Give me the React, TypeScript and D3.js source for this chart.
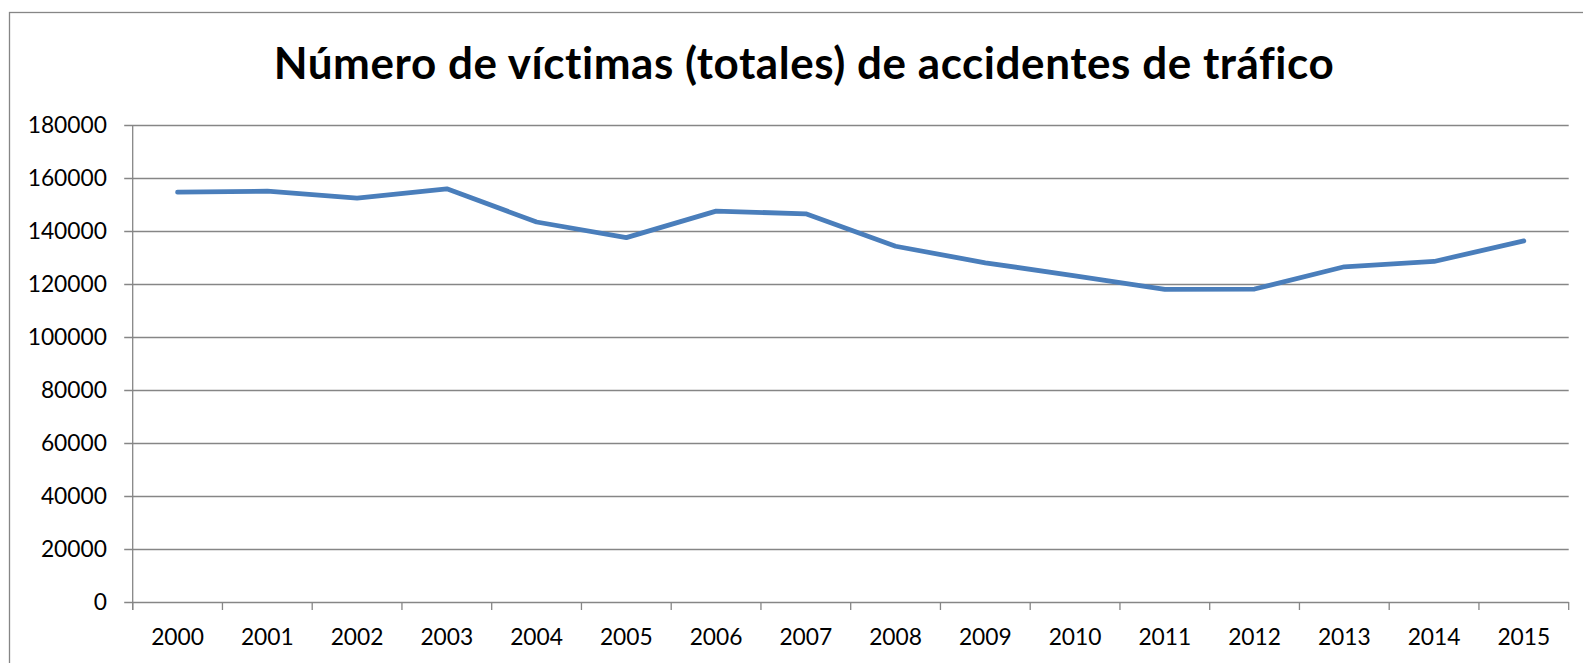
import React from "react";
import * as d3 from "d3";

const years = ["2000","2001","2002","2003","2004","2005","2006","2007","2008","2009","2010","2011","2012","2013","2014","2015"];
const victims = [154650, 155030, 152400, 155900, 143400, 137500, 147500, 146500, 134250, 128000, 123100, 118000, 118100, 126500, 128500, 136250];
const yTicks = [0, 20000, 40000, 60000, 80000, 100000, 120000, 140000, 160000, 180000];
const title = "Número de víctimas (totales) de accidentes de tráfico";

const W = 1583, H = 663;
const left = 132.7, right = 1568.7, top = 125, bottom = 602;
const grid = "#868686";
const font = "Lato, 'Open Sans', sans-serif";

export default function App() {
  const x = d3.scaleBand<string>().domain(years).range([left, right]).padding(0);
  const y = d3.scaleLinear().domain([0, 180000]).range([bottom, top]);
  const line = d3.line<number>()
    .x((_, i) => (x(years[i]) as number) + x.bandwidth() / 2)
    .y((d) => y(d));
  const bounds = years.map((yr) => x(yr) as number).concat([right]);
  return (
    <svg width={W} height={H} style={{ position: "fixed", left: 0, top: 0, background: "#fff" }}>
      <rect x={9.5} y={12.5} width={1620} height={700} fill="#fff" stroke={grid} strokeWidth={1.3} />
      <text x={804} y={78.5} textAnchor="middle" fontFamily={font} fontWeight={700} fontSize={44} letterSpacing={0.55} style={{ fontVariantLigatures: "none" }} fill="#000">{title}</text>
      {yTicks.map((t) => (
        <g key={t}>
          <line x1={left - 8.5} x2={right} y1={Math.round(y(t)) + 0.5} y2={Math.round(y(t)) + 0.5} stroke={grid} strokeWidth={1.3} />
          <text x={107} y={y(t) + 8} textAnchor="end" fontFamily={font} fontSize={22.8} fill="#000">{t}</text>
        </g>
      ))}
      <line x1={left} x2={left} y1={top} y2={bottom + 8} stroke={grid} strokeWidth={1.3} />
      {bounds.map((b, i) => (
        <line key={i} x1={b} x2={b} y1={bottom} y2={bottom + 8} stroke={grid} strokeWidth={1.3} />
      ))}
      {years.map((yr) => (
        <text key={yr} x={(x(yr) as number) + x.bandwidth() / 2} y={645} textAnchor="middle" fontFamily={font} fontSize={22.8} fill="#000">{yr}</text>
      ))}
      <path d={line(victims) || ""} fill="none" stroke="#4A7EBB" strokeWidth={4.8} strokeLinejoin="round" strokeLinecap="round" />
    </svg>
  );
}
